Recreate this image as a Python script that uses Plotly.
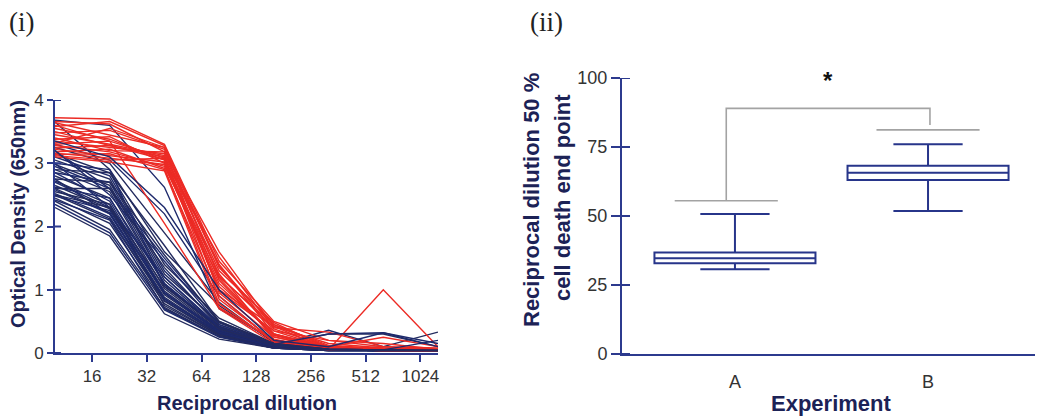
import math
import plotly.graph_objects as go

# ---------------- data ----------------
dilutions = [10, 20, 40, 80, 160, 320, 640, 1280]
dilution_ticks = [16, 32, 64, 128, 256, 512, 1024]
od_ticks = [0, 1, 2, 3, 4]

# optical density curves, group shown in red
od_red = [
    [3.72, 3.70, 3.30, 1.45, 0.50, 0.20, 0.10, 0.08],
    [3.66, 3.62, 3.18, 1.60, 0.42, 0.15, 0.08, 0.06],
    [3.64, 3.45, 3.25, 1.20, 0.45, 0.12, 0.07, 0.05],
    [3.58, 3.66, 3.28, 1.38, 0.30, 0.10, 0.06, 0.05],
    [3.55, 3.38, 3.05, 1.52, 0.38, 0.10, 0.07, 0.05],
    [3.48, 3.52, 3.22, 0.95, 0.25, 0.09, 0.06, 0.05],
    [3.45, 3.30, 3.12, 1.30, 0.48, 0.08, 0.06, 0.04],
    [3.38, 3.42, 3.00, 1.10, 0.30, 0.08, 0.05, 0.04],
    [3.35, 3.25, 3.15, 1.40, 0.35, 0.08, 0.05, 0.05],
    [3.30, 3.35, 3.08, 0.85, 0.20, 0.07, 0.05, 0.04],
    [3.28, 3.18, 2.95, 1.18, 0.28, 0.07, 0.05, 0.04],
    [3.24, 3.28, 3.10, 1.00, 0.42, 0.06, 0.05, 0.04],
    [3.22, 3.12, 3.02, 1.25, 0.22, 0.06, 0.04, 0.04],
    [3.18, 3.22, 2.92, 0.78, 0.18, 0.06, 0.04, 0.04],
    [3.16, 3.08, 2.98, 1.05, 0.30, 0.06, 0.04, 0.04],
    [3.14, 3.15, 2.90, 0.90, 0.18, 0.05, 1.00, 0.10],
    [3.12, 3.05, 3.08, 1.15, 0.26, 0.05, 0.05, 0.04],
    [3.60, 3.35, 2.05, 0.70, 0.15, 0.05, 0.05, 0.04],
    [3.40, 3.20, 3.18, 1.22, 0.40, 0.33, 0.10, 0.05],
    [3.32, 3.55, 3.25, 1.35, 0.45, 0.10, 0.25, 0.10],
    [3.50, 3.28, 3.06, 0.98, 0.35, 0.20, 0.15, 0.06],
    [3.10, 3.02, 2.88, 0.72, 0.20, 0.06, 0.05, 0.04],
]

# optical density curves, group shown in navy
od_blue = [
    [3.68, 3.60, 2.62, 0.70, 0.20, 0.10, 0.06, 0.05],
    [3.65, 2.90, 1.60, 0.75, 0.18, 0.08, 0.05, 0.05],
    [3.30, 3.05, 2.20, 0.90, 0.18, 0.08, 0.05, 0.04],
    [3.25, 3.00, 1.90, 0.80, 0.16, 0.07, 0.05, 0.04],
    [3.20, 2.60, 1.50, 0.50, 0.15, 0.07, 0.05, 0.04],
    [3.15, 2.85, 1.40, 0.55, 0.15, 0.06, 0.05, 0.04],
    [3.10, 2.80, 1.30, 0.45, 0.14, 0.06, 0.05, 0.04],
    [3.05, 2.75, 1.25, 0.48, 0.14, 0.06, 0.05, 0.04],
    [3.00, 2.90, 1.05, 0.42, 0.13, 0.06, 0.05, 0.04],
    [2.98, 2.65, 1.15, 0.40, 0.13, 0.06, 0.05, 0.04],
    [2.95, 2.60, 1.10, 0.40, 0.12, 0.36, 0.10, 0.05],
    [2.90, 2.55, 1.08, 0.38, 0.12, 0.30, 0.30, 0.10],
    [2.85, 2.70, 1.20, 0.42, 0.12, 0.06, 0.05, 0.04],
    [2.80, 2.45, 1.02, 0.36, 0.11, 0.05, 0.04, 0.04],
    [2.75, 2.20, 0.85, 0.32, 0.11, 0.05, 0.04, 0.04],
    [2.72, 2.35, 0.98, 0.35, 0.11, 0.05, 0.04, 0.04],
    [2.70, 2.30, 0.95, 0.34, 0.10, 0.05, 0.04, 0.04],
    [2.65, 2.28, 0.92, 0.33, 0.10, 0.05, 0.10, 0.33],
    [2.62, 2.45, 1.10, 0.38, 0.10, 0.05, 0.04, 0.04],
    [2.60, 2.22, 0.88, 0.32, 0.10, 0.05, 0.04, 0.04],
    [2.58, 2.20, 0.86, 0.31, 0.10, 0.05, 0.04, 0.04],
    [2.55, 2.35, 0.75, 0.28, 0.09, 0.05, 0.04, 0.04],
    [2.52, 2.15, 0.83, 0.30, 0.09, 0.05, 0.04, 0.04],
    [2.50, 2.12, 0.82, 0.29, 0.09, 0.05, 0.04, 0.04],
    [2.48, 2.25, 0.95, 0.33, 0.09, 0.04, 0.04, 0.04],
    [2.45, 2.05, 0.78, 0.28, 0.08, 0.04, 0.04, 0.04],
    [2.42, 2.10, 0.70, 0.26, 0.08, 0.04, 0.04, 0.04],
    [2.40, 1.95, 0.72, 0.26, 0.08, 0.04, 0.04, 0.04],
    [2.35, 1.90, 0.68, 0.25, 0.08, 0.04, 0.04, 0.04],
    [2.30, 1.85, 0.62, 0.22, 0.08, 0.04, 0.04, 0.04],
    [3.35, 3.10, 2.30, 1.00, 0.20, 0.10, 0.32, 0.15],
    [2.90, 2.85, 1.70, 0.50, 0.15, 0.06, 0.05, 0.04],
    [3.20, 2.50, 1.45, 0.45, 0.14, 0.30, 0.32, 0.10],
    [2.60, 2.60, 1.35, 0.42, 0.13, 0.06, 0.05, 0.04],
    [3.00, 2.30, 1.20, 0.40, 0.13, 0.06, 0.05, 0.20],
    [2.75, 2.70, 1.55, 0.48, 0.15, 0.06, 0.05, 0.04],
    [2.85, 2.40, 0.95, 0.36, 0.11, 0.05, 0.04, 0.04],
    [2.50, 2.30, 1.05, 0.38, 0.12, 0.05, 0.04, 0.04],
]

# 50 % cell death end point summary per experiment
experiments = ["A", "B"]
q1 = [32.9, 63.0]
median = [34.7, 65.7]
q3 = [36.8, 68.2]
lower_whisker = [30.7, 51.8]
upper_whisker = [50.7, 76.0]
group_max = [55.5, 81.2]
bracket_top = 89.0
bracket_drop_b = 83.0
endpoint_ticks = [0, 25, 50, 75, 100]

# ---------------- styling ----------------
W, H = 1038, 419
RED = "#ec2b25"
NAVY_LINES = ["#1e2a6c", "#232b5e"]
AXIS = "#2c3a8e"
TITLE = "#1c2256"
TICKTXT = "#333333"
GRAY = "#a3a3a3"
SANS = "Liberation Sans, Arial, sans-serif"
SERIF = "Liberation Serif, Times New Roman, serif"


def px(x):
    return x / W


def py(y):
    return 1 - y / H


fig = go.Figure()


def add_curve(vals, color):
    fig.add_trace(go.Scatter(
        x=dilutions, y=vals, mode="lines",
        line=dict(color=color, width=1.4),
        xaxis="x", yaxis="y", showlegend=False, hoverinfo="skip",
    ))


for i, row in enumerate(od_blue[:30]):
    add_curve(row, NAVY_LINES[i % 2])
for row in od_red:
    add_curve(row, RED)
for i, row in enumerate(od_blue[30:]):
    add_curve(row, NAVY_LINES[i % 2])

fig.add_trace(go.Box(
    x=experiments, q1=q1, median=median, q3=q3,
    lowerfence=lower_whisker, upperfence=upper_whisker,
    width=0.834, whiskerwidth=0.43, boxpoints=False,
    line=dict(color="#27358a", width=2), fillcolor="rgba(255,255,255,0)",
    xaxis="x2", yaxis="y2", showlegend=False, hoverinfo="skip",
))

# max-value markers and significance bracket
centre_shift = [-0.045, 0.0]
half_len = 0.267
shapes = []
for i, lvl in enumerate(group_max):
    c = i + centre_shift[i]
    shapes.append(dict(type="line", xref="x2", yref="y2",
                       x0=c - half_len, x1=c + half_len, y0=lvl, y1=lvl,
                       line=dict(color=GRAY, width=1.6)))
xa = 0 + centre_shift[0]
xb = 1 + 0.01
shapes.append(dict(type="path", xref="x2", yref="y2",
                   path=f"M {xa},{group_max[0]} L {xa},{bracket_top} L {xb},{bracket_top} L {xb},{bracket_drop_b}",
                   line=dict(color=GRAY, width=1.6)))

# inner halves of the tick marks, so that ticks cross the axis lines
tick_line = dict(color=AXIS, width=2)
for t in dilution_ticks:
    shapes.append(dict(type="line", xref="x", yref="y domain", ysizemode="pixel",
                       yanchor=0, y0=0, y1=7, x0=math.log10(t), x1=math.log10(t),
                       line=tick_line))
for t in od_ticks:
    shapes.append(dict(type="line", xref="x domain", yref="y", xsizemode="pixel",
                       xanchor=0, x0=0, x1=6, y0=t, y1=t, line=tick_line))
for t in endpoint_ticks:
    shapes.append(dict(type="line", xref="x2 domain", yref="y2", xsizemode="pixel",
                       xanchor=0, x0=0, x1=8, y0=t, y1=t, line=tick_line))


def label(text, x, y, size, family=SANS, color=TITLE, bold=True, angle=0):
    return dict(text=text, x=px(x), y=py(y), xref="paper", yref="paper",
                xanchor="center", yanchor="middle", textangle=angle, showarrow=False,
                font=dict(family=family, size=size, color=color,
                          weight="bold" if bold else "normal"))


annotations = [
    dict(text="*", x=0.48, y=99.0, xref="x2", yref="y2", showarrow=False,
         xanchor="center", yanchor="middle",
         font=dict(family=SANS, size=24, color="#111111", weight="bold")),
    label("(i)", 21, 22, 27, family=SERIF, color="#222222", bold=False),
    label("(ii)", 546, 22, 27, family=SERIF, color="#222222", bold=False),
    label("Optical Density (650nm)", 18, 214, 20, angle=-90),
    label("Reciprocal dilution", 247, 403, 20),
    label("Reciprocal dilution 50 %", 532, 200, 22, angle=-90),
    label("cell death end point", 562, 198, 22, angle=-90),
    label("Experiment", 831, 403, 22),
]

tickfont = dict(family=SANS, size=17, color=TICKTXT)
tickfont2 = dict(family=SANS, size=18, color=TICKTXT)

fig.update_layout(
    width=W, height=H,
    margin=dict(l=0, r=0, t=0, b=0, autoexpand=False),
    paper_bgcolor="white", plot_bgcolor="rgba(0,0,0,0)",
    shapes=shapes, annotations=annotations,
    xaxis=dict(
        type="log", range=[math.log10(dilutions[0]), math.log10(dilutions[-1])],
        domain=[px(55), px(438)], anchor="y", automargin=False,
        tickvals=dilution_ticks, ticktext=[str(t) for t in dilution_ticks],
        showline=True, linecolor=AXIS, linewidth=2,
        ticks="outside", ticklen=7, tickwidth=2, tickcolor=AXIS,
        tickfont=tickfont, showgrid=False, zeroline=False,
    ),
    yaxis=dict(
        range=[0, 4], domain=[py(353), py(100)], anchor="x", automargin=False,
        tickvals=od_ticks, showline=True, linecolor=AXIS, linewidth=2,
        ticks="outside", ticklen=6, tickwidth=2, tickcolor=AXIS,
        tickfont=tickfont, showgrid=False, zeroline=False,
    ),
    xaxis2=dict(
        type="category", categoryarray=experiments, categoryorder="array",
        range=[-0.585, 1.554], domain=[px(622), px(1035)], anchor="y2", automargin=False,
        showline=True, linecolor=AXIS, linewidth=2, ticks="",
        ticklabelstandoff=10, tickfont=tickfont2,
        showgrid=False, zeroline=False,
    ),
    yaxis2=dict(
        range=[0, 100], domain=[py(354), py(78)], anchor="x2", automargin=False,
        tickvals=endpoint_ticks, showline=True, linecolor=AXIS, linewidth=2,
        ticks="outside", ticklen=9, tickwidth=2, tickcolor=AXIS,
        tickfont=tickfont2, showgrid=False, zeroline=False,
    ),
)

fig.write_html("out.html")
